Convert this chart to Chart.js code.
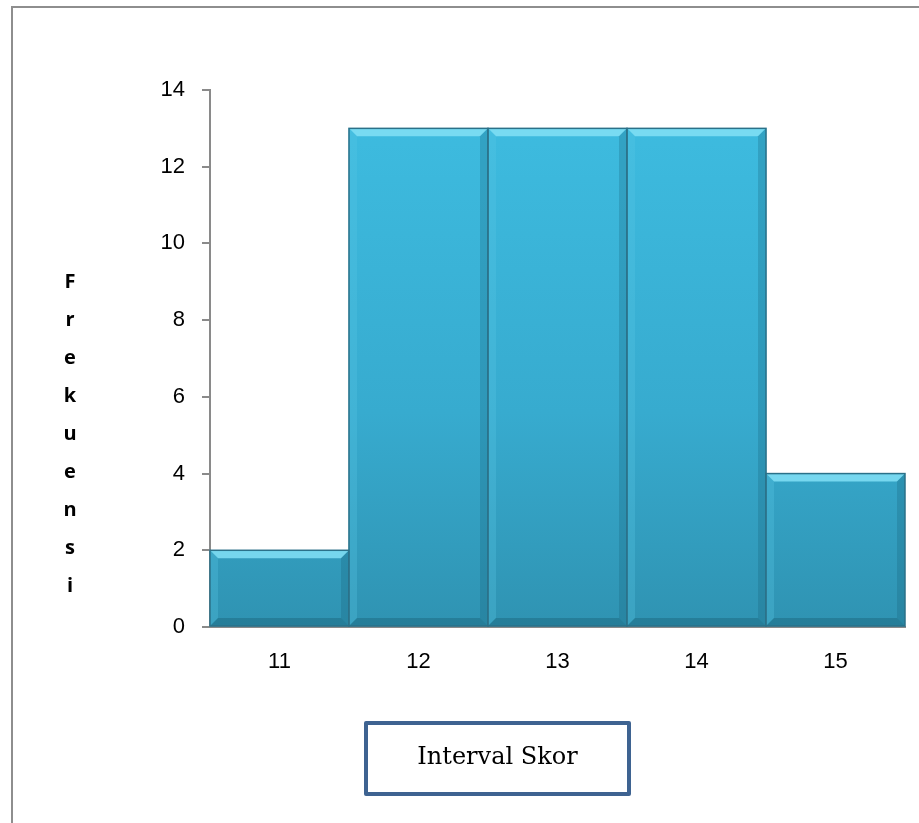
<!DOCTYPE html>
<html>
<head>
<meta charset="utf-8">
<script src="https://cdn.jsdelivr.net/npm/chart.js@4.4.1/dist/chart.umd.min.js"></script>
<style>
  html, body { margin: 0; padding: 0; background: #fff; }
  #wrap { position: relative; width: 919px; height: 823px; overflow: hidden; }
  #frame {
    position: absolute; left: 11px; top: 6px; width: 1000px; height: 900px;
    border-top: 2px solid #8e8e8e; border-left: 2px solid #8e8e8e;
  }
  #chart { position: absolute; left: 0; top: 0; }
  #ytitle {
    position: absolute; left: 55px; top: 262px; width: 30px;
    font: bold 20px "Open Sans", "Liberation Sans", sans-serif;
    line-height: 38px; text-align: center; color: #000;
  }
  #xtitle {
    position: absolute; left: 364px; top: 721px; width: 259px; height: 67px;
    border: 4px solid #3e6391; border-radius: 2px;
    font: 24px "DejaVu Serif", "Liberation Serif", serif; color: #000;
    display: flex; align-items: center; justify-content: center;
  }
  #xtitle span { position: relative; top: -3px; }
</style>
</head>
<body>
<div id="wrap">
  <div id="frame"></div>
  <canvas id="chart" width="919" height="823"></canvas>
  <div id="ytitle">F<br>r<br>e<br>k<br>u<br>e<br>n<br>s<br>i</div>
  <div id="xtitle"><span>Interval Skor</span></div>
</div>
<script>
  "use strict";

  const categories = ["11", "12", "13", "14", "15"];
  const frequencies = [2, 13, 13, 13, 4];
  const yTicks = [0, 2, 4, 6, 8, 10, 12, 14];

  // bevel look like the office chart: light top edge, darker bottom/right edges
  const bevelPlugin = {
    id: "bevel",
    afterDatasetsDraw(chart) {
      const ctx = chart.ctx;
      const meta = chart.getDatasetMeta(0);
      const b = 8;
      meta.data.forEach((bar) => {
        const left = bar.x - bar.width / 2;
        const right = bar.x + bar.width / 2;
        const top = bar.y;
        const bottom = bar.base;
        ctx.save();
        // top highlight
        ctx.fillStyle = "rgba(130,225,246,0.85)";
        ctx.beginPath();
        ctx.moveTo(left, top);
        ctx.lineTo(right, top);
        ctx.lineTo(right - b, top + b);
        ctx.lineTo(left + b, top + b);
        ctx.closePath();
        ctx.fill();
        // left edge
        ctx.fillStyle = "rgba(90,200,230,0.30)";
        ctx.beginPath();
        ctx.moveTo(left, top);
        ctx.lineTo(left + b, top + b);
        ctx.lineTo(left + b, bottom - b);
        ctx.lineTo(left, bottom);
        ctx.closePath();
        ctx.fill();
        // right edge
        ctx.fillStyle = "rgba(20,90,115,0.25)";
        ctx.beginPath();
        ctx.moveTo(right, top);
        ctx.lineTo(right - b, top + b);
        ctx.lineTo(right - b, bottom - b);
        ctx.lineTo(right, bottom);
        ctx.closePath();
        ctx.fill();
        // bottom edge
        ctx.fillStyle = "rgba(20,85,105,0.35)";
        ctx.beginPath();
        ctx.moveTo(left, bottom);
        ctx.lineTo(left + b, bottom - b);
        ctx.lineTo(right - b, bottom - b);
        ctx.lineTo(right, bottom);
        ctx.closePath();
        ctx.fill();
        // outline
        ctx.strokeStyle = "#2b7189";
        ctx.lineWidth = 1.5;
        ctx.strokeRect(left, top, right - left, bottom - top);
        ctx.restore();
      });
    }
  };

  const ctx = document.getElementById("chart");
  const tickFont = { size: 22, family: "'Liberation Sans', Arial, sans-serif" };

  new Chart(ctx, {
    type: "bar",
    data: {
      labels: categories,
      datasets: [
        {
          data: frequencies,
          barPercentage: 1,
          categoryPercentage: 1,
          borderWidth: 0,
          backgroundColor: (c) => {
            const area = c.chart.chartArea;
            if (!area) return "#38b3d8";
            const g = c.chart.ctx.createLinearGradient(0, area.top, 0, area.bottom);
            g.addColorStop(0, "#3ebde1");
            g.addColorStop(0.6, "#37abcf");
            g.addColorStop(1, "#2f93b2");
            return g;
          }
        }
      ]
    },
    options: {
      responsive: false,
      animation: false,
      layout: { padding: { top: 90, right: 14, left: 0, bottom: 0 } },
      plugins: {
        legend: { display: false },
        tooltip: { enabled: false }
      },
      scales: {
        x: {
          offset: true,
          grid: { display: false },
          border: { display: true, color: "#8a8a8a", width: 2 },
          ticks: { color: "#000", padding: 14, font: tickFont },
          afterFit: (s) => { s.height = 196; }
        },
        y: {
          min: 0,
          max: 14,
          afterBuildTicks: (s) => { s.ticks = yTicks.map((v) => ({ value: v })); },
          grid: { drawOnChartArea: false, drawTicks: true, tickLength: 8, color: "#8a8a8a", lineWidth: 2 },
          border: { display: true, color: "#8a8a8a", width: 2 },
          ticks: { color: "#000", padding: 17, font: tickFont },
          afterFit: (s) => { s.width = 210; }
        }
      }
    },
    plugins: [bevelPlugin]
  });
</script>
</body>
</html>
